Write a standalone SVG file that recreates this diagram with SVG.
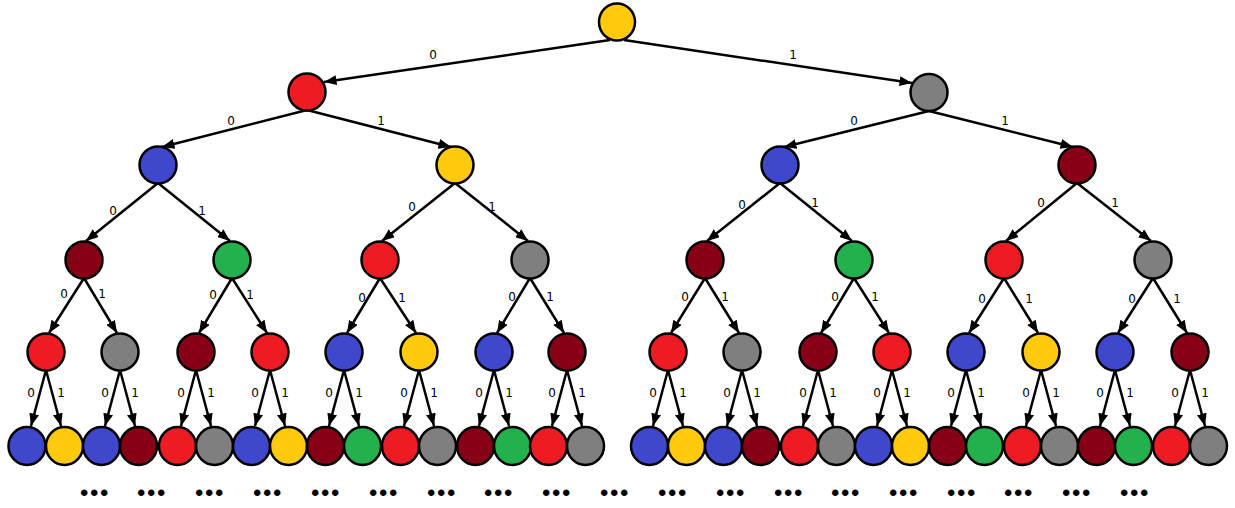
<svg xmlns="http://www.w3.org/2000/svg" width="1235" height="508" viewBox="0 0 1235 508">
<style>
.n ellipse{stroke:#000;stroke-width:2.5}
.y{fill:#FFC90E}.r{fill:#ED1C24}.k{fill:#7F7F7F}.b{fill:#3F48CC}.d{fill:#880015}.g{fill:#22B14C}
#edges line{stroke:#000;stroke-width:2.5;marker-end:url(#ah)}
.lb{font-family:"DejaVu Sans",sans-serif;font-size:12px;fill:#000;text-anchor:middle}
.dots{font-family:"Liberation Sans",sans-serif;font-size:24px;letter-spacing:1.6px;fill:#000;text-anchor:middle}
</style>
<defs>
<marker id="ah" viewBox="0 0 10 8" refX="10" refY="4" markerWidth="5" markerHeight="4" orient="auto" markerUnits="strokeWidth">
<path d="M0,0 L10,4 L0,8 Z" fill="#000"/>
</marker>
</defs>
<rect width="1235" height="508" fill="#fff"/>
<g id="edges">
<line x1="610" y1="40" x2="324" y2="82"/>
<line x1="624" y1="40" x2="912" y2="83"/>
<line x1="307" y1="110" x2="162" y2="147"/>
<line x1="307" y1="110" x2="451" y2="147"/>
<line x1="929" y1="111" x2="784" y2="147"/>
<line x1="929" y1="111" x2="1073" y2="147"/>
<line x1="158" y1="183" x2="86" y2="241"/>
<line x1="158" y1="183" x2="230" y2="241"/>
<line x1="455" y1="183" x2="382" y2="241"/>
<line x1="455" y1="183" x2="528" y2="241"/>
<line x1="780" y1="183" x2="707" y2="241"/>
<line x1="780" y1="183" x2="852" y2="241"/>
<line x1="1077" y1="183" x2="1006" y2="241"/>
<line x1="1077" y1="183" x2="1151" y2="241"/>
<line x1="84" y1="278" x2="49" y2="333"/>
<line x1="84" y1="278" x2="117" y2="333"/>
<line x1="232" y1="278" x2="199" y2="333"/>
<line x1="232" y1="278" x2="267" y2="333"/>
<line x1="380" y1="278" x2="347" y2="333"/>
<line x1="380" y1="278" x2="416" y2="333"/>
<line x1="530" y1="278" x2="497" y2="333"/>
<line x1="530" y1="278" x2="564" y2="333"/>
<line x1="705" y1="278" x2="671" y2="333"/>
<line x1="705" y1="278" x2="739" y2="333"/>
<line x1="854" y1="278" x2="821" y2="333"/>
<line x1="854" y1="278" x2="889" y2="333"/>
<line x1="1004" y1="278" x2="969" y2="333"/>
<line x1="1004" y1="278" x2="1038" y2="333"/>
<line x1="1153" y1="278" x2="1118" y2="333"/>
<line x1="1153" y1="278" x2="1187" y2="333"/>
<line x1="46" y1="370" x2="31" y2="426"/><line x1="46" y1="370" x2="61" y2="426"/>
<line x1="120" y1="370" x2="105" y2="426"/><line x1="120" y1="370" x2="135" y2="426"/>
<line x1="196" y1="370" x2="181" y2="426"/><line x1="196" y1="370" x2="211" y2="426"/>
<line x1="270" y1="370" x2="255" y2="426"/><line x1="270" y1="370" x2="285" y2="426"/>
<line x1="344" y1="370" x2="329" y2="426"/><line x1="344" y1="370" x2="359" y2="426"/>
<line x1="419" y1="370" x2="404" y2="426"/><line x1="419" y1="370" x2="434" y2="426"/>
<line x1="494" y1="370" x2="479" y2="426"/><line x1="494" y1="370" x2="509" y2="426"/>
<line x1="567" y1="370" x2="552" y2="426"/><line x1="567" y1="370" x2="582" y2="426"/>
<line x1="668" y1="370" x2="653" y2="426"/><line x1="668" y1="370" x2="683" y2="426"/>
<line x1="742" y1="370" x2="727" y2="426"/><line x1="742" y1="370" x2="757" y2="426"/>
<line x1="818" y1="370" x2="803" y2="426"/><line x1="818" y1="370" x2="833" y2="426"/>
<line x1="892" y1="370" x2="877" y2="426"/><line x1="892" y1="370" x2="907" y2="426"/>
<line x1="966" y1="370" x2="951" y2="426"/><line x1="966" y1="370" x2="981" y2="426"/>
<line x1="1041" y1="370" x2="1026" y2="426"/><line x1="1041" y1="370" x2="1056" y2="426"/>
<line x1="1115" y1="370" x2="1100" y2="426"/><line x1="1115" y1="370" x2="1130" y2="426"/>
<line x1="1190" y1="370" x2="1175" y2="426"/><line x1="1190" y1="370" x2="1205" y2="426"/>
</g>
<g id="labels">
<text class="lb" x="433" y="59">0</text><text class="lb" x="793" y="59">1</text>
<text class="lb" x="231" y="125">0</text><text class="lb" x="381" y="125">1</text>
<text class="lb" x="854" y="125">0</text><text class="lb" x="1005" y="125">1</text>
<text class="lb" x="113" y="215">0</text><text class="lb" x="202" y="215">1</text>
<text class="lb" x="412" y="211">0</text><text class="lb" x="492" y="211">1</text>
<text class="lb" x="742" y="209">0</text><text class="lb" x="815" y="207">1</text>
<text class="lb" x="1041" y="207">0</text><text class="lb" x="1115" y="207">1</text>
<text class="lb" x="64" y="298">0</text><text class="lb" x="102" y="298">1</text>
<text class="lb" x="213" y="299">0</text><text class="lb" x="250" y="299">1</text>
<text class="lb" x="362" y="302">0</text><text class="lb" x="402" y="302">1</text>
<text class="lb" x="512" y="301">0</text><text class="lb" x="550" y="301">1</text>
<text class="lb" x="685" y="301">0</text><text class="lb" x="725" y="301">1</text>
<text class="lb" x="835" y="301">0</text><text class="lb" x="875" y="301">1</text>
<text class="lb" x="982" y="303">0</text><text class="lb" x="1029" y="303">1</text>
<text class="lb" x="1132" y="303">0</text><text class="lb" x="1177" y="303">1</text>
<text class="lb" x="31" y="397">0</text><text class="lb" x="61" y="397">1</text>
<text class="lb" x="105" y="397">0</text><text class="lb" x="135" y="397">1</text>
<text class="lb" x="181" y="397">0</text><text class="lb" x="211" y="397">1</text>
<text class="lb" x="255" y="397">0</text><text class="lb" x="285" y="397">1</text>
<text class="lb" x="329" y="397">0</text><text class="lb" x="359" y="397">1</text>
<text class="lb" x="404" y="397">0</text><text class="lb" x="434" y="397">1</text>
<text class="lb" x="479" y="397">0</text><text class="lb" x="509" y="397">1</text>
<text class="lb" x="552" y="397">0</text><text class="lb" x="582" y="397">1</text>
<text class="lb" x="653" y="397">0</text><text class="lb" x="683" y="397">1</text>
<text class="lb" x="727" y="397">0</text><text class="lb" x="757" y="397">1</text>
<text class="lb" x="803" y="397">0</text><text class="lb" x="833" y="397">1</text>
<text class="lb" x="877" y="397">0</text><text class="lb" x="907" y="397">1</text>
<text class="lb" x="951" y="397">0</text><text class="lb" x="981" y="397">1</text>
<text class="lb" x="1026" y="397">0</text><text class="lb" x="1056" y="397">1</text>
<text class="lb" x="1100" y="397">0</text><text class="lb" x="1130" y="397">1</text>
<text class="lb" x="1175" y="397">0</text><text class="lb" x="1205" y="397">1</text>
</g>
<g id="n" class="n"><ellipse class="y" cx="617" cy="22" rx="18" ry="18.5"/></g>
<g id="n0" class="n"><ellipse class="r" cx="307" cy="92" rx="18.5" ry="18.5"/></g>
<g id="n1" class="n"><ellipse class="k" cx="929" cy="92.5" rx="18.5" ry="18.5"/></g>
<g id="n00" class="n"><ellipse class="b" cx="158" cy="165" rx="18.5" ry="18.5"/></g>
<g id="n01" class="n"><ellipse class="y" cx="455" cy="165" rx="18.5" ry="18.5"/></g>
<g id="n10" class="n"><ellipse class="b" cx="780" cy="165" rx="18.5" ry="18.5"/></g>
<g id="n11" class="n"><ellipse class="d" cx="1077" cy="165" rx="18.5" ry="18.5"/></g>
<g id="n000" class="n"><ellipse class="d" cx="84" cy="260" rx="18.5" ry="18.5"/></g>
<g id="n001" class="n"><ellipse class="g" cx="232" cy="260" rx="18.5" ry="18.5"/></g>
<g id="n010" class="n"><ellipse class="r" cx="380" cy="260" rx="18.5" ry="18.5"/></g>
<g id="n011" class="n"><ellipse class="k" cx="530" cy="260" rx="18.5" ry="18.5"/></g>
<g id="n100" class="n"><ellipse class="d" cx="705" cy="260" rx="18.5" ry="18.5"/></g>
<g id="n101" class="n"><ellipse class="g" cx="854" cy="260" rx="18.5" ry="18.5"/></g>
<g id="n110" class="n"><ellipse class="r" cx="1004" cy="260" rx="18.5" ry="18.5"/></g>
<g id="n111" class="n"><ellipse class="k" cx="1153" cy="260" rx="18.5" ry="18.5"/></g>
<g id="n0000" class="n"><ellipse class="r" cx="46" cy="352" rx="18.5" ry="18.5"/></g>
<g id="n0001" class="n"><ellipse class="k" cx="120" cy="352" rx="18.5" ry="18.5"/></g>
<g id="n0010" class="n"><ellipse class="d" cx="196" cy="352" rx="18.5" ry="18.5"/></g>
<g id="n0011" class="n"><ellipse class="r" cx="270" cy="352" rx="18.5" ry="18.5"/></g>
<g id="n0100" class="n"><ellipse class="b" cx="344" cy="352" rx="18.5" ry="18.5"/></g>
<g id="n0101" class="n"><ellipse class="y" cx="419" cy="352" rx="18.5" ry="18.5"/></g>
<g id="n0110" class="n"><ellipse class="b" cx="494" cy="352" rx="18.5" ry="18.5"/></g>
<g id="n0111" class="n"><ellipse class="d" cx="567" cy="352" rx="18.5" ry="18.5"/></g>
<g id="n1000" class="n"><ellipse class="r" cx="668" cy="352" rx="18.5" ry="18.5"/></g>
<g id="n1001" class="n"><ellipse class="k" cx="742" cy="352" rx="18.5" ry="18.5"/></g>
<g id="n1010" class="n"><ellipse class="d" cx="818" cy="352" rx="18.5" ry="18.5"/></g>
<g id="n1011" class="n"><ellipse class="r" cx="892" cy="352" rx="18.5" ry="18.5"/></g>
<g id="n1100" class="n"><ellipse class="b" cx="966" cy="352" rx="18.5" ry="18.5"/></g>
<g id="n1101" class="n"><ellipse class="y" cx="1041" cy="352" rx="18.5" ry="18.5"/></g>
<g id="n1110" class="n"><ellipse class="b" cx="1115" cy="352" rx="18.5" ry="18.5"/></g>
<g id="n1111" class="n"><ellipse class="d" cx="1190" cy="352" rx="18.5" ry="18.5"/></g>
<g id="n00000" class="n"><ellipse class="b" cx="27" cy="446" rx="18.5" ry="19"/></g>
<g id="n00001" class="n"><ellipse class="y" cx="64.5" cy="446" rx="18.5" ry="19"/></g>
<g id="n00010" class="n"><ellipse class="b" cx="101.5" cy="446" rx="18.5" ry="19"/></g>
<g id="n00011" class="n"><ellipse class="d" cx="138.5" cy="446" rx="18.5" ry="19"/></g>
<g id="n00100" class="n"><ellipse class="r" cx="177.5" cy="446" rx="18.5" ry="19"/></g>
<g id="n00101" class="n"><ellipse class="k" cx="214.5" cy="446" rx="18.5" ry="19"/></g>
<g id="n00110" class="n"><ellipse class="b" cx="251.5" cy="446" rx="18.5" ry="19"/></g>
<g id="n00111" class="n"><ellipse class="y" cx="288.5" cy="446" rx="18.5" ry="19"/></g>
<g id="n01000" class="n"><ellipse class="d" cx="325.5" cy="446" rx="18.5" ry="19"/></g>
<g id="n01001" class="n"><ellipse class="g" cx="362.5" cy="446" rx="18.5" ry="19"/></g>
<g id="n01010" class="n"><ellipse class="r" cx="400.5" cy="446" rx="18.5" ry="19"/></g>
<g id="n01011" class="n"><ellipse class="k" cx="437.5" cy="446" rx="18.5" ry="19"/></g>
<g id="n01100" class="n"><ellipse class="d" cx="475.5" cy="446" rx="18.5" ry="19"/></g>
<g id="n01101" class="n"><ellipse class="g" cx="512.5" cy="446" rx="18.5" ry="19"/></g>
<g id="n01110" class="n"><ellipse class="r" cx="548.5" cy="446" rx="18.5" ry="19"/></g>
<g id="n01111" class="n"><ellipse class="k" cx="585.5" cy="446" rx="18.5" ry="19"/></g>
<g id="n10000" class="n"><ellipse class="b" cx="649.5" cy="446" rx="18.5" ry="19"/></g>
<g id="n10001" class="n"><ellipse class="y" cx="686.5" cy="446" rx="18.5" ry="19"/></g>
<g id="n10010" class="n"><ellipse class="b" cx="723.5" cy="446" rx="18.5" ry="19"/></g>
<g id="n10011" class="n"><ellipse class="d" cx="760.5" cy="446" rx="18.5" ry="19"/></g>
<g id="n10100" class="n"><ellipse class="r" cx="799.5" cy="446" rx="18.5" ry="19"/></g>
<g id="n10101" class="n"><ellipse class="k" cx="836.5" cy="446" rx="18.5" ry="19"/></g>
<g id="n10110" class="n"><ellipse class="b" cx="873.5" cy="446" rx="18.5" ry="19"/></g>
<g id="n10111" class="n"><ellipse class="y" cx="910.5" cy="446" rx="18.5" ry="19"/></g>
<g id="n11000" class="n"><ellipse class="d" cx="947.5" cy="446" rx="18.5" ry="19"/></g>
<g id="n11001" class="n"><ellipse class="g" cx="984.5" cy="446" rx="18.5" ry="19"/></g>
<g id="n11010" class="n"><ellipse class="r" cx="1022.5" cy="446" rx="18.5" ry="19"/></g>
<g id="n11011" class="n"><ellipse class="k" cx="1059.5" cy="446" rx="18.5" ry="19"/></g>
<g id="n11100" class="n"><ellipse class="d" cx="1096.5" cy="446" rx="18.5" ry="19"/></g>
<g id="n11101" class="n"><ellipse class="g" cx="1133.5" cy="446" rx="18.5" ry="19"/></g>
<g id="n11110" class="n"><ellipse class="r" cx="1171.5" cy="446" rx="18.5" ry="19"/></g>
<g id="n11111" class="n"><ellipse class="k" cx="1208.5" cy="446" rx="18.5" ry="19"/></g>
<g id="ellipsis" class="dots">
<text x="95" y="501">•••</text><text x="152" y="501">•••</text><text x="210" y="501">•••</text>
<text x="268" y="501">•••</text><text x="326" y="501">•••</text><text x="384" y="501">•••</text>
<text x="442" y="501">•••</text><text x="499" y="501">•••</text><text x="557" y="501">•••</text>
<text x="615" y="501">•••</text><text x="673" y="501">•••</text><text x="731" y="501">•••</text>
<text x="789" y="501">•••</text><text x="846" y="501">•••</text><text x="904" y="501">•••</text>
<text x="962" y="501">•••</text><text x="1019" y="501">•••</text><text x="1077" y="501">•••</text>
<text x="1135" y="501">•••</text>
</g>
</svg>
